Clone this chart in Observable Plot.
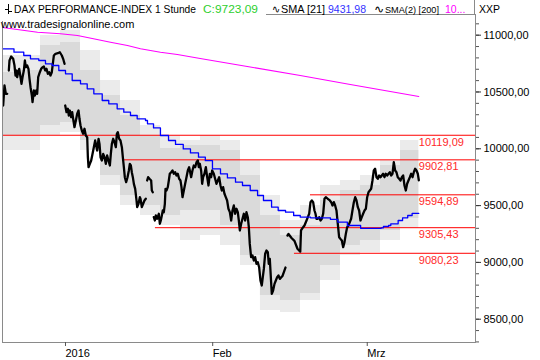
<!DOCTYPE html>
<html><head><meta charset="utf-8">
<script src="https://cdn.jsdelivr.net/npm/d3@7"></script>
<script src="https://cdn.jsdelivr.net/npm/@observablehq/plot@0.6"></script>
<style>
body{margin:0;background:#fff}
#wrap{position:relative;width:540px;height:360px;overflow:hidden;font-family:'Liberation Sans',Arial,sans-serif}
#hdr{position:absolute;left:0;top:0}
#hdr text{font-family:'Liberation Sans',Arial,sans-serif;font-size:10.5px;fill:#000}
</style>
</head><body>
<div id="wrap"><div id="chart"></div>
<svg id="hdr" width="540" height="32">
  <rect x="0" y="0" width="266" height="21" fill="#fff"/>
  <line x1="474.5" y1="0" x2="474.5" y2="14" stroke="#8a8a8a"/>
  <line x1="8.5" y1="4" x2="8.5" y2="14" stroke="#000"/>
  <line x1="5" y1="9.5" x2="8.5" y2="9.5" stroke="#000"/>
  <line x1="8.5" y1="11.5" x2="12" y2="11.5" stroke="#000"/>
  <text x="14" y="13" textLength="182" lengthAdjust="spacingAndGlyphs">DAX PERFORMANCE-INDEX 1 Stunde</text>
  <text x="203" y="13" textLength="55" lengthAdjust="spacingAndGlyphs" style="fill:#2fcf2f">C:9723,09</text>
  <text x="272" y="13" textLength="8" lengthAdjust="spacingAndGlyphs">∿</text>
  <text x="281" y="13" textLength="44" lengthAdjust="spacingAndGlyphs">SMA [21]</text>
  <text x="328" y="13" textLength="38" lengthAdjust="spacingAndGlyphs" style="fill:#3333ff">9431,98</text>
  <text x="374" y="13" textLength="10" lengthAdjust="spacingAndGlyphs">∿</text>
  <text x="385" y="13" textLength="54" lengthAdjust="spacingAndGlyphs" style="font-size:9.6px">SMA(2) [200]</text>
  <text x="445" y="13" style="fill:#ff00ff">10...</text>
  <text x="479" y="13" textLength="21" lengthAdjust="spacingAndGlyphs">XXP</text>
  <text x="1" y="28" style="font-size:11px">www.tradesignalonline.com</text>
</svg>
</div>
<script>
// x positions are trading days relative to 4 Jan 2016 (0 = 2016, 20 = Feb, 41 = Mrz)
const tickPos = [0, 20, 41];
const tickLab = ["2016", "Feb", "Mrz"];
const xDomain = [-8.56, 55.71];
const yDomain = [8295, 11182];
const yMajor = [8500, 9000, 9500, 10000, 10500, 11000];

// hourly price path (NaN = gap)
const priceT = [
-8.47,-8.29,-8.11,-7.92,-7.80,-7.70,-7.61,-7.38,-7.11,-6.93,
-6.79,-6.66,-6.57,-6.43,-6.29,-6.11,-5.98,-5.84,-5.66,-5.52,
-5.39,-5.21,-5.03,-4.89,-4.75,-4.57,-4.48,-4.30,-4.16,-3.98,
-3.85,-3.71,-3.49,-3.30,-3.12,-2.94,-2.76,-2.58,-2.40,-2.22,
-2.04,-1.86,-1.67,-1.58,-1.36,-1.04,-0.77,-0.50,-0.32,-0.13,
-0.08,-0.04,0.14,0.32,0.45,0.59,0.77,0.91,1.04,1.22,
1.41,1.59,1.77,1.90,2.04,2.22,2.40,2.58,2.76,2.95,
3.04,3.13,3.31,3.49,3.67,3.85,4.03,4.17,4.30,4.49,
4.62,4.76,4.94,5.12,5.30,5.48,5.66,5.84,6.03,6.16,
6.30,6.48,6.66,6.84,6.98,7.11,7.29,7.47,7.66,7.79,
7.93,8.06,8.24,8.43,8.61,8.74,8.88,9.01,9.15,9.29,
9.47,9.65,9.74,9.92,10.10,10.19,10.37,10.55,10.73,10.91,
11.00,11.09,11.23,11.41,11.64,11.73,11.86,11.93,12.00,12.14,
12.27,12.45,12.68,12.82,12.95,13.09,13.22,13.36,13.50,13.59,
13.72,13.90,14.04,14.17,14.36,14.54,14.72,14.90,15.08,15.26,
15.44,15.62,15.76,15.90,16.08,16.26,16.44,16.62,16.80,16.94,
17.07,17.25,17.43,17.62,17.80,17.98,18.11,18.25,18.43,18.57,
18.70,18.88,19.07,19.25,19.43,19.61,19.79,19.93,20.15,20.33,
20.51,20.70,20.88,21.06,21.24,21.42,21.60,21.78,21.96,22.14,
22.33,22.51,22.69,22.87,23.05,23.23,23.41,23.55,23.69,23.87,
24.05,24.23,24.41,24.59,24.77,24.91,25.04,25.22,25.41,25.59,
25.77,25.95,26.13,26.31,26.49,26.67,26.81,26.95,27.13,27.31,
27.49,27.62,27.76,27.85,28.03,28.21,28.40,28.58,28.76,28.94,
29.12,29.48,29.89,30.03,30.16,30.30,30.71,31.11,31.52,31.90,
32.00,32.29,32.47,32.75,32.93,33.11,33.29,33.47,33.65,33.83,
33.97,34.10,34.28,34.47,34.65,34.83,35.01,35.19,35.37,35.64,
35.92,36.10,36.28,36.46,36.64,36.82,37.00,37.18,37.36,37.55,
37.73,37.91,38.09,38.27,38.45,38.63,38.81,38.99,39.18,39.36,
39.54,39.72,39.90,40.08,40.26,40.44,40.63,40.81,40.99,41.17,
41.35,41.53,41.71,41.89,42.07,42.26,42.44,42.62,42.80,42.98,
43.16,43.34,43.52,43.71,43.89,44.07,44.25,44.43,44.61,44.79,
44.97,45.15,45.34,45.52,45.70,45.88,46.06,46.24,46.42,46.60,
46.79,46.97,47.15,47.33,47.51,47.69,47.87,48.01];
const priceV = [
10381,10557,10484,10484,NaN,10689,10777,10812,10792,10733,
10645,10689,10630,10674,10704,10630,10572,10630,10689,10777,
10718,10733,10704,10616,10542,10469,10410,10513,10469,10513,
10484,10630,10674,10704,10718,10724,10689,10704,10660,10674,
10645,10674,10777,10821,10836,10841,10850,10821,10792,10748,
NaN,10381,10322,10352,10293,10337,10278,10322,10264,10190,
10249,10308,10337,10264,10205,10161,10132,10176,10117,10102,
9926,9838,9867,9897,9955,10014,10073,10029,9985,10088,
10043,9926,9897,9955,9926,9867,9941,9897,9853,9955,
10043,10088,10058,10014,10132,10146,10088,10073,10014,9926,
9838,9750,9706,9750,9809,9867,9853,9794,9750,9691,
9647,9545,9486,9515,9574,9560,9486,9516,9545,9560,
NaN,9721,9750,9736,9721,9633,9618,NaN,9398,9369,
9413,9384,9428,9340,9369,9413,9457,9442,9516,9648,
9633,9662,9721,9780,9794,9809,9780,9794,9765,9780,
9736,9721,9662,9574,9633,9692,9750,9809,9838,9794,
9750,9809,9853,9838,9882,9897,9838,9868,9809,9692,
9750,9780,9838,9750,9677,9780,9750,9809,9780,9736,
9692,9721,9750,9677,9633,9662,9604,9574,9545,9472,
9442,9369,9457,9501,9428,9472,9442,9369,9281,9340,
9384,9428,9369,9442,9398,9310,9163,9046,9061,9017,
9046,8987,9002,8958,8841,8797,8870,8943,9076,9105,
9090,8987,9031,8929,8723,8753,8811,8841,8870,8885,
8855,8880,8955,NaN,9237,9250,9215,9190,9120,9095,
9281,9310,9325,9369,9398,9428,9530,9545,9530,9457,
9428,9384,9384,9398,9369,9384,9428,9560,9574,9560,
9545,9530,9501,9530,9501,9457,9340,9222,9207,9193,
9134,9178,9251,9310,9325,9354,9384,9457,9530,9574,
9545,9486,9457,9369,9398,9428,9457,9472,9574,9618,
9633,9648,9721,9809,9824,9750,9736,9765,9750,9765,
9780,9750,9780,9765,9780,9794,9765,9780,9882,9809,
9794,9750,9736,9721,9750,9765,9677,9633,9692,9721,
9750,9780,9750,9794,9824,9809,9780,9723];

// SMA [21] (blue, stepped)
const smaT = [-8.56,-7.0,-5.67,-4.76,-3.63,-2.72,-1.81,-0.91,0,0.91,2.04,2.95,3.85,4.99,5.88,7.02,7.92,8.83,9.74,10.87,11.14,11.96,12.9,14.0,14.95,16.0,16.98,18.07,19.0,19.97,21.06,22.0,23.1,24.05,25.1,26.1,26.9,28.0,28.9,29.9,31.0,31.9,33.3,36.0,37.0,38.3,40.1,42.9,43.2,43.9,44.2,45.2,45.8,46.5,47.1,48.01];
const smaV = [10880,10850,10821,10792,10777,10748,10733,10689,10660,10601,10572,10528,10484,10425,10396,10352,10322,10293,10264,10249,10220,10184,10117,10073,10038,9999,9964,9926,9895,9824,9780,9744,9706,9677,9633,9589,9545,9486,9457,9442,9413,9398,9392,9378,9355,9325,9300,9304,9316,9325,9340,9369,9392,9413,9432,9432];

// SMA(2) [200] (magenta)
const s200T = [-8.56,-3.8,-0.68,1.63,3.8,6.11,8.42,10.19,12.9,15.2,18.3,25.1,31.9,38.7,48.01];
const s200V = [11068,11026,11012,10997,10968,10938,10909,10880,10850,10830,10795,10720,10645,10566,10460];

// grey band (outer / inner edges)
const bandT  = [-8.56,-6.11,-3.40,-0.68,2.04,4.76,7.47,10.19,12.91,15.63,18.34,21.06,23.78,26.49,29.21,31.93,34.65,37.36,40.08,42.80,45.52,48.01];
const bandOT = [10821,10821,10997,11041,10865,10601,10425,10205,10117,10073,10117,10073,9897,9589,9369,9501,9677,9721,9765,9897,10073,10117];
const bandIT = [10672,10689,10909,10936,10689,10469,10293,10117,10003,10029,10029,9985,9765,9413,9237,9325,9545,9633,9677,9853,9985,9985];
const bandIB = [10117,10117,10205,10232,10073,9765,9589,9501,9413,9457,9457,9325,9061,8709,8665,8726,8973,9149,9193,9281,9386,9430];
const bandOB = [9985,9985,10117,10143,9985,9677,9501,9413,9325,9193,9237,9149,8973,8577,8559,8665,8841,9061,9087,9193,9298,9307];

// horizontal levels
const levelV = [10119.09, 9902.81, 9594.89, 9305.43, 9080.23];
const levelStart = [-8.56, 7.74, 33.29, 12.22, 31.11];

const fmt = v => v.toFixed(2).replace(".", ",");
const price = priceT.map((t, i) => ({t, v: priceV[i]}));
const sma = smaT.map((t, i) => ({t, v: smaV[i]}));
const s200 = s200T.map((t, i) => ({t, v: s200V[i]}));
const band = bandT.map((t, i) => ({t, ot: bandOT[i], it: bandIT[i], ib: bandIB[i], ob: bandOB[i]}));
const lastT = priceT[priceT.length - 1];
const levels = levelV.map((v, i) => ({v, start: levelStart[i], end: xDomain[1], lx: lastT}));
const yMinor = d3.range(8300, 11200, 100);

const chart = Plot.plot({
  width: 540, height: 360,
  marginLeft: 2, marginRight: 65, marginTop: 14, marginBottom: 18,
  x: {domain: xDomain},
  y: {domain: yDomain},
  style: {fontFamily: "'Liberation Sans', Arial, sans-serif", fontSize: "11px", background: "#fff", color: "#000"},
  marks: [
    Plot.areaY(band, {x: "t", y1: "ob", y2: "ot", fill: "#ebebeb", curve: "step-after"}),
    Plot.areaY(band, {x: "t", y1: "ib", y2: "it", fill: "#dadada", curve: "step-after"}),
    Plot.line(s200, {x: "t", y: "v", stroke: "#ff00ff", strokeWidth: 1.1}),
    Plot.ruleY(levels, {y: "v", x1: "start", x2: "end", stroke: "#ff0000", strokeWidth: 1}),
    Plot.text(levels, {x: "lx", y: "v", text: d => fmt(d.v), textAnchor: "start", dy: 7, fill: "#ff2a2a", fontSize: 11}),
    Plot.line(price, {x: "t", y: "v", stroke: "#000", strokeWidth: 2.3}),
    Plot.line(sma, {x: "t", y: "v", stroke: "#0000ff", strokeWidth: 1.3, curve: "step-after"}),
    Plot.frame({stroke: "#8a8a8a"}),
    Plot.axisY(yMinor, {anchor: "right", tickSize: 3, tickFormat: () => "", stroke: "#555"}),
    Plot.axisY(yMajor, {anchor: "right", tickSize: 5, tickPadding: 3, tickFormat: fmt, fontSize: 11, stroke: "#333", fill: "#000"}),
    Plot.axisX(tickPos, {anchor: "bottom", tickSize: 4, tickPadding: 3, tickFormat: d => tickLab[tickPos.indexOf(d)], textAnchor: "start", fontSize: 11, stroke: "#555", fill: "#000"})
  ]
});
document.getElementById("chart").appendChild(chart);
</script>
</body></html>
